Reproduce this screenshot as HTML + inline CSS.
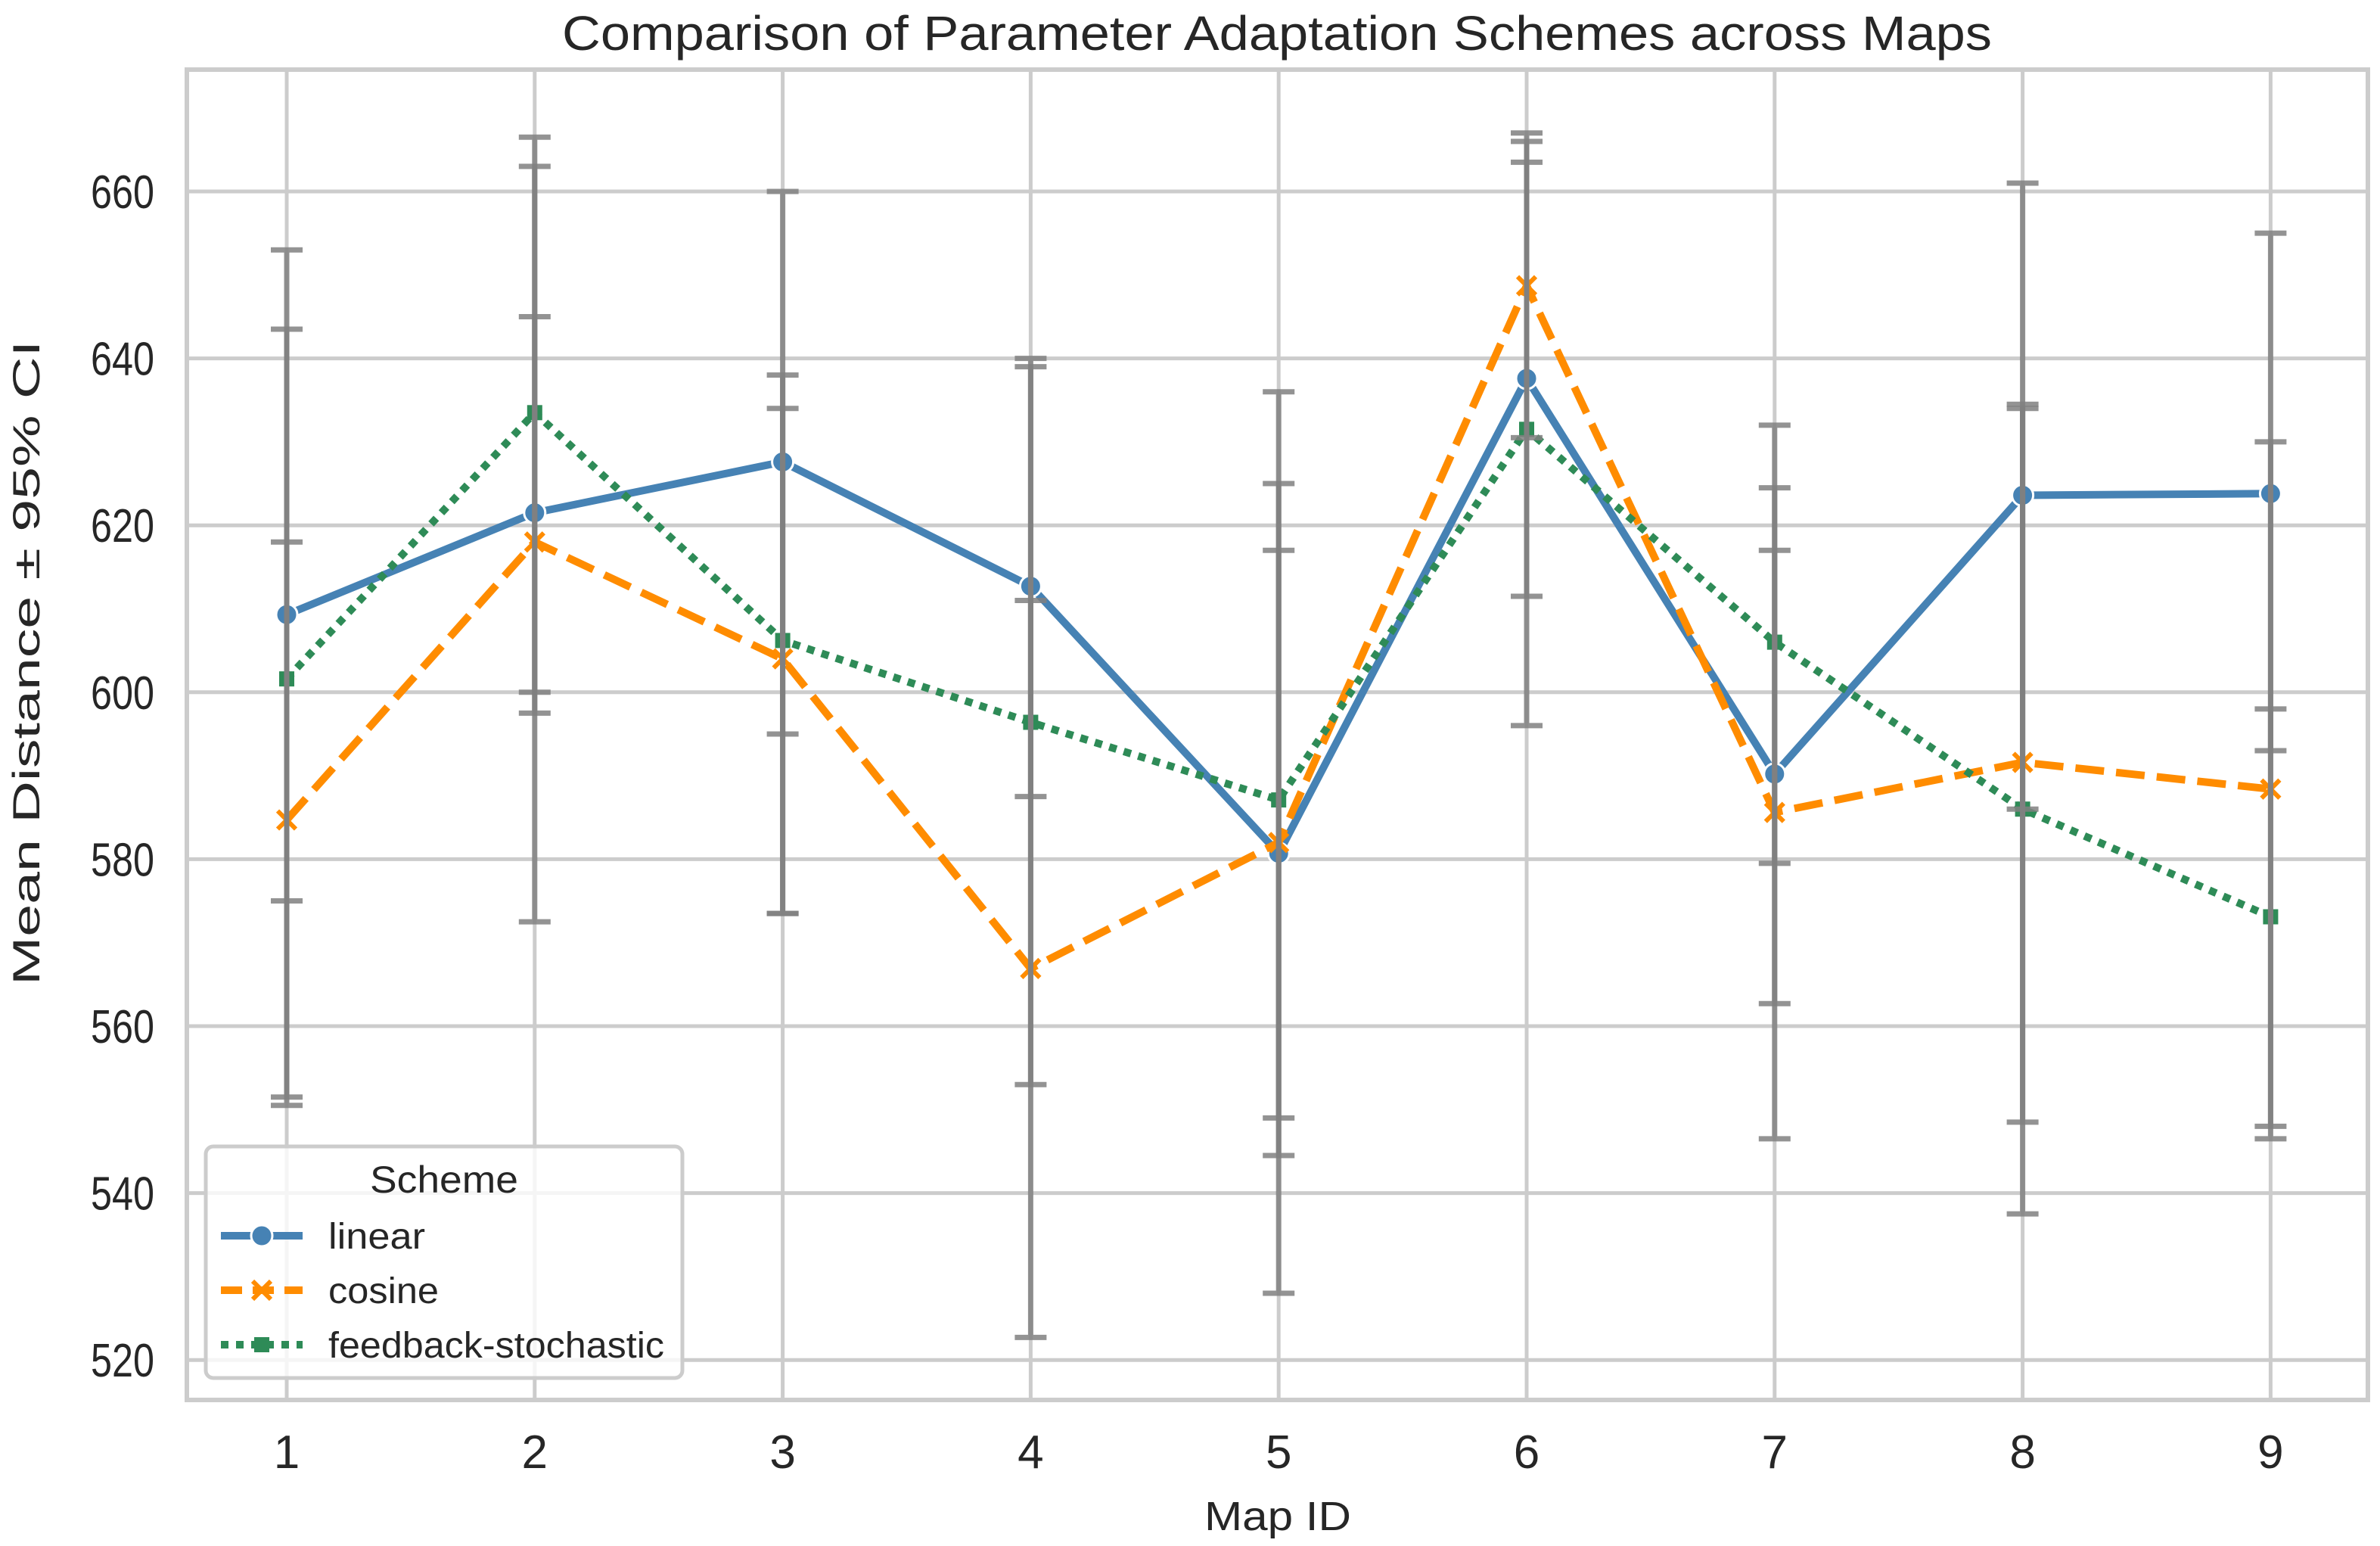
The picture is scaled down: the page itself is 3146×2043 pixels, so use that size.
<!DOCTYPE html>
<html><head><meta charset="utf-8">
<style>
html,body{margin:0;padding:0;background:#fff;}
svg{display:block;font-family:"Liberation Sans",Arial,sans-serif;}
</style></head>
<body>
<svg id="chart" width="3146" height="2043" viewBox="0 0 3146 2043" xmlns="http://www.w3.org/2000/svg">
<rect width="3146" height="2043" fill="#fff"/>
<g id="grid"></g>
<g id="series"></g>
<g id="errs"></g>
<g id="axes"></g>
<g id="legend"></g>
</svg>
<script>
const categories = [1,2,3,4,5,6,7,8,9];
const yTicks = [520,540,560,580,600,620,640,660];
const linearVals = [609.3,621.5,627.6,612.7,580.7,637.6,590.2,623.6,623.8];
const linearLo = [575,597.5,595,587.5,544.5,611.5,562.7,586,593];
const linearHi = [643.5,645,660,639,617,663.5,617,661,655];
const cosineVals = [584.7,618,604,566.9,582,648.7,585.6,591.6,588.4];
const cosineLo = [551.5,572.5,573.5,522.7,528,630.5,546.5,548.5,546.5];
const cosineHi = [618,663,634,611,636,667,624.5,634.5,630];
const feedbackVals = [601.6,633.5,606.2,596.4,587.1,631.5,606,586,573.1];
const feedbackLo = [550.5,600,573.5,553,549,596,579.5,537.5,548];
const feedbackHi = [653,666.5,638,640,625,666,632,634,598];

const NS = "http://www.w3.org/2000/svg";
const L = 247, R = 3130, T = 92, B = 1850;
function xs(i){ return 379 + (i-1)*327.8; }
function ys(v){ return 253 + (660 - v)*11.03; }
function mk(tag, attrs, parent, text){
  const e = document.createElementNS(NS, tag);
  for (const k in attrs) e.setAttribute(k, attrs[k]);
  if (text !== undefined) e.textContent = text;
  parent.appendChild(e);
  return e;
}
const grid = document.getElementById('grid');
const axes = document.getElementById('axes');
yTicks.forEach(v=>{
  const g = mk('line',{x1:L,x2:R,y1:ys(v),y2:ys(v),stroke:'#cccccc','stroke-width':5},grid);
  
  
  const t = mk('text',{x:204,y:ys(v)+22,'text-anchor':'end','font-size':62,fill:'#262626',textLength:84,lengthAdjust:'spacingAndGlyphs'},axes,String(v));
  
  
});
categories.forEach(c=>{
  const g = mk('line',{x1:xs(c),x2:xs(c),y1:T,y2:B,stroke:'#cccccc','stroke-width':5},grid);
  
  
  const t = mk('text',{x:xs(c),y:1940,'text-anchor':'middle','font-size':62,fill:'#262626'},axes,String(c));
  
  
});
const frame = mk('rect',{x:L,y:T,width:R-L,height:B-T,fill:'none',stroke:'#cccccc','stroke-width':6},axes);


const title = mk('text',{x:1688,y:66,'text-anchor':'middle','font-size':64,fill:'#262626',textLength:1890,lengthAdjust:'spacingAndGlyphs'},axes,'Comparison of Parameter Adaptation Schemes across Maps');


const xl = mk('text',{x:1689,y:2022,'text-anchor':'middle','font-size':54,fill:'#262626',textLength:194,lengthAdjust:'spacingAndGlyphs'},axes,'Map ID');


const yl = mk('text',{x:0,y:0,transform:'translate(52,876) rotate(-90)','text-anchor':'middle','font-size':50,fill:'#262626',textLength:852,lengthAdjust:'spacingAndGlyphs'},axes,'Mean Distance ± 95% CI');



const seriesG = document.getElementById('series');
const errG = document.getElementById('errs');
const defs = [
  {name:'linear',vals:linearVals,lo:linearLo,hi:linearHi,color:'#4682b4',dash:'none',marker:'circle'},
  {name:'cosine',vals:cosineVals,lo:cosineLo,hi:cosineHi,color:'#ff8c00',dash:'38,16',marker:'x'},
  {name:'feedback-stochastic',vals:feedbackVals,lo:feedbackLo,hi:feedbackHi,color:'#2e8b57',dash:'10,10',marker:'square'}
];
function marker(type,x,y,color,parent){
  let m;
  if(type==='circle') m = mk('circle',{cx:x,cy:y,r:14,fill:color,stroke:'#fff','stroke-width':3},parent);
  else if(type==='x') m = mk('path',{d:`M${x-12},${y-12}L${x+12},${y+12}M${x-12},${y+12}L${x+12},${y-12}`,stroke:color,'stroke-width':6},parent);
  else m = mk('rect',{x:x-10,y:y-10,width:20,height:20,fill:color},parent);
  return m;
}
defs.forEach(s=>{
  const pts = categories.map((c,i)=>xs(c)+','+ys(s.vals[i])).join(' ');
  const pl = mk('polyline',{points:pts,fill:'none',stroke:s.color,'stroke-width':10,'stroke-dasharray':s.dash,'stroke-linejoin':'round'},seriesG);
  
  
  categories.forEach((c,i)=>{
    const m = marker(s.marker,xs(c),ys(s.vals[i]),s.color,seriesG);
    
    
    const x = xs(c), y1 = ys(s.hi[i]), y2 = ys(s.lo[i]);
    const eb = mk('path',{d:`M${x},${y1}L${x},${y2}M${x-21},${y1}L${x+21},${y1}M${x-21},${y2}L${x+21},${y2}`,stroke:'#808080','stroke-opacity':0.85,'stroke-width':7,fill:'none'},errG);
    
    
  });
});
const lg = document.getElementById('legend');
const box = mk('rect',{x:272,y:1515,width:630,height:306,rx:10,fill:'#ffffff','fill-opacity':0.8,stroke:'#cccccc','stroke-width':5},lg);


const lt = mk('text',{x:587,y:1576,'text-anchor':'middle','font-size':50,fill:'#262626',textLength:196,lengthAdjust:'spacingAndGlyphs'},lg,'Scheme');


const legendLens = [128,146,444];
defs.forEach((s,i)=>{
  const y = 1633 + i*72;
  const g = mk('g',{},lg);
  
  
  mk('line',{x1:292,x2:400,y1:y,y2:y,stroke:s.color,'stroke-width':10,'stroke-dasharray':s.dash==='none'?'none':(s.dash==='10,10'?'10,10':'28,14')},g);
  marker(s.marker,346,y,s.color,g);
  mk('text',{x:434,y:y+17,'font-size':48,fill:'#262626',textLength:legendLens[i],lengthAdjust:'spacingAndGlyphs'},g,s.name);
});
</script>
</body></html>
